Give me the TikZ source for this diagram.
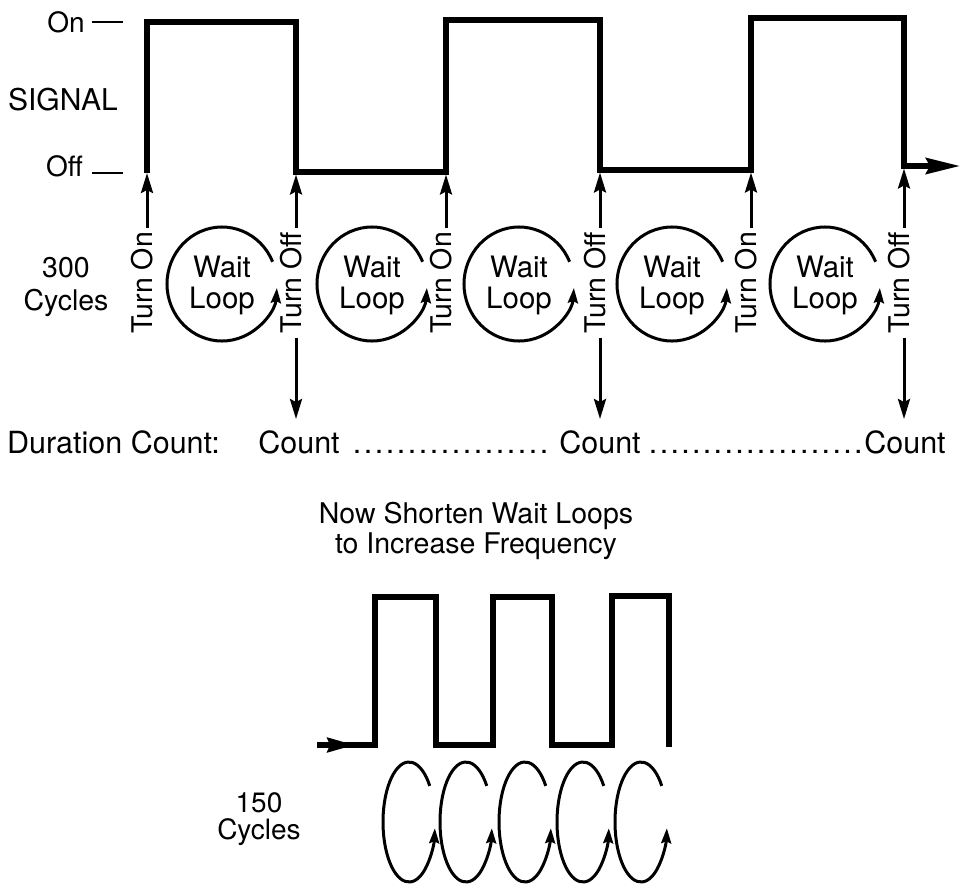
\documentclass[tikz,border=0pt]{standalone}
\usepackage{fontspec}
\setmainfont{TeX Gyre Heros}
\usetikzlibrary{arrows.meta}
\newcommand\fsz[2]{\fontsize{#1}{#2}\selectfont}
\begin{document}
\begin{tikzpicture}[x=1pt,y=-1pt,
  txt/.style={font=\fsz{28}{31}, inner sep=0pt},
  wave/.style={line width=5.5pt, line join=miter, line cap=butt},
  sig/.style={line width=3pt, -{Stealth[length=20pt,width=12pt,inset=3pt]}},
  loopline/.style={line width=3pt, -{Stealth[length=15pt,width=10pt,inset=2pt]}},
  tick/.style={line width=2.5pt},
  vlabel/.style={txt, font=\fsz{28.5}{31}, rotate=90, inner xsep=4pt},
]
\path[use as bounding box, fill=white] (0,0) rectangle (962,884);

% upper square wave
\coordinate (p1) at (147,173);
\coordinate (p2) at (147,22);
\coordinate (p3) at (296,22);
\coordinate (p4) at (296,172);
\coordinate (p5) at (446,172);
\coordinate (p6) at (446,20);
\coordinate (p7) at (600,20);
\coordinate (p8) at (600,170);
\coordinate (p9) at (751,170);
\coordinate (p10) at (751,18);
\coordinate (p11) at (904,18);
\coordinate (p12) at (904,166);
\coordinate (p13) at (960,166);
\draw[wave, -{Stealth[length=34pt,width=16pt,inset=4pt]}]
  (p1) -- (p2) -- (p3) -- (p4) -- (p5) -- (p6) -- (p7) -- (p8)
  -- (p9) -- (p10) -- (p11) -- (p12) -- (p13);

% level labels
\node[txt, anchor=east] (lon) at (85,22) {On};
\node[txt, font=\fsz{30}{31}] (lsig) at (63,100) {SIGNAL};
\node[txt, anchor=east] (loff) at (83,166) {Off};
\draw[tick] ([xshift=7pt]lon.east) -- ++(31,0);
\draw[tick] ([xshift=9pt,yshift=-7pt]loff.east) -- ++(31,0);

% switching events
\node[vlabel] (ton1) at (142,283) {Turn On};
\node[vlabel] (tof1) at (291,283) {Turn Off};
\node[vlabel] (ton2) at (441,283) {Turn On};
\node[vlabel] (tof2) at (595,283) {Turn Off};
\node[vlabel] (ton3) at (746,283) {Turn On};
\node[vlabel] (tof3) at (899,283) {Turn Off};

\draw[sig] (ton1.east -| p1) -- (p1);
\draw[sig, shorten >=2.5pt] (tof1.east -| p4) -- (p4);
\draw[sig, shorten >=2.5pt] (ton2.east -| p5) -- (p5);
\draw[sig, shorten >=2.5pt] (tof2.east -| p8) -- (p8);
\draw[sig, shorten >=2.5pt] (ton3.east -| p9) -- (p9);
\draw[sig, shorten >=2.5pt] (tof3.east -| p12) -- (p12);

% wait loops between the events
\foreach \i/\cx in {1/222,2/372,3/519,4/672,5/825} {
  \node[txt, align=center, font=\fsz{29.5}{31}] (wl\i) at (\cx,285) {Wait\\Loop};
  \draw[loopline] (\cx,284) ++(-23:55 and 57)
    arc[start angle=-23, end angle=-356, x radius=55, y radius=57];
}

\node[txt, align=center, font=\fsz{28.5}{33}] (c300) at (66,287) {300\\Cycles};

% duration count line
\tikzset{cnt/.style={txt, font=\fsz{30.5}{31}}}
\node[cnt, anchor=base west] (dur) at (7,453) {Duration Count:};
\node[cnt, anchor=base] (cnt1) at (299,453) {Count};
\node[cnt, anchor=base] (cnt2) at (600,453) {Count};
\node[cnt, anchor=base] (cnt3) at (905,453) {Count};
\node[cnt, anchor=base west] (dots1) at (351.5,453)
  {\hbox to 198pt{\xleaders\hbox to 11pt{\hss.\hss}\hfill}};
\node[cnt, anchor=base west] (dots2) at (647.6,453)
  {\hbox to 216pt{\xleaders\hbox to 10.8pt{\hss.\hss}\hfill}};

\draw[sig, shorten >=11pt] (tof1.west -| p4) -- (cnt1.north -| p4);
\draw[sig, shorten >=11pt] (tof2.west -| p8) -- (cnt2.north -| p8);
\draw[sig, shorten >=11pt] (tof3.west -| p12) -- (cnt3.north -| p12);

% caption
\node[txt, align=center, font=\fsz{28.5}{30}] (note) at (476,531)
  {Now Shorten Wait Loops\\to Increase Frequency};

% lower, faster square wave
\coordinate (q0) at (317,745);
\coordinate (qa) at (354,745);
\coordinate (q1) at (375,745);
\coordinate (q2) at (375,597);
\coordinate (q3) at (436,597);
\coordinate (q4) at (436,745);
\coordinate (q5) at (493,745);
\coordinate (q6) at (493,597);
\coordinate (q7) at (552,597);
\coordinate (q8) at (552,745);
\coordinate (q9) at (612,745);
\coordinate (q10) at (612,596);
\coordinate (q11) at (669,596);
\coordinate (q12) at (669,747);
\draw[wave] (q0) -- (q1) -- (q2) -- (q3) -- (q4) -- (q5) -- (q6) -- (q7)
  -- (q8) -- (q9) -- (q10) -- (q11) -- (q12);
\draw[line width=3.5pt, -{Stealth[length=27pt,width=15pt,inset=3pt]}] (q0) -- (qa);

\node[txt, align=center, font=\fsz{28}{27}] (c150) at (259,819) {150\\Cycles};

% short wait loops
\foreach \cx in {409,466,525,583,641} {
  \draw[loopline] (\cx,822) ++(-37:26 and 60)
    arc[start angle=-37, end angle=-354, x radius=26, y radius=60];
}
\end{tikzpicture}
\end{document}
